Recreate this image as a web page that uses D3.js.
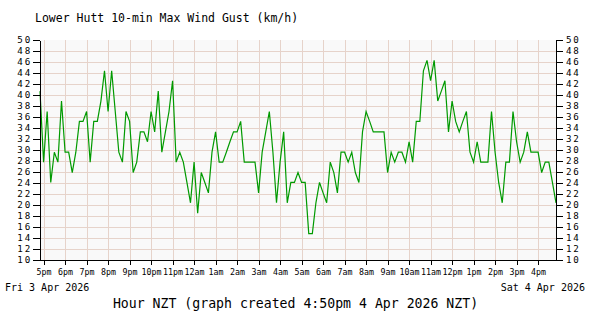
<!DOCTYPE html>
<html><head><meta charset="utf-8">
<script src="https://cdn.jsdelivr.net/npm/d3@7"></script>
<style>html,body{margin:0;padding:0;background:#fff;} svg{display:block;}</style>
</head><body><svg id="c" width="600" height="320"></svg>
<script>
const chartTitle = "Lower Hutt 10-min Max Wind Gust (km/h)";
const xAxisTitle = "Hour NZT (graph created 4:50pm 4 Apr 2026 NZT)";
const startDateLabel = "Fri 3 Apr 2026";
const endDateLabel = "Sat 4 Apr 2026";
const startTime = Date.UTC(2026, 3, 3, 16, 50); // NZT wall clock
const intervalMinutes = 10;
const gustKmh = [
  40.7,27.8,37.0,24.1,29.6,27.8,38.9,29.6,29.6,25.9,
  29.6,35.2,35.2,37.0,27.8,35.2,35.2,38.9,44.4,37.0,
  44.4,37.0,29.6,27.8,37.0,35.2,25.9,27.8,33.3,33.3,
  31.5,37.0,33.3,40.7,29.6,33.3,37.0,42.6,27.8,29.6,
  27.8,24.1,20.4,27.8,18.5,25.9,24.1,22.2,29.6,33.3,
  27.8,27.8,29.6,31.5,33.3,33.3,35.2,27.8,27.8,27.8,
  27.8,22.2,29.6,33.3,37.0,29.6,20.4,27.8,33.3,20.4,
  24.1,24.1,25.9,24.1,24.1,14.8,14.8,20.4,24.1,22.2,
  20.4,27.8,25.9,22.2,29.6,29.6,27.8,29.6,25.9,24.1,
  33.3,37.0,35.2,33.3,33.3,33.3,33.3,25.9,29.6,27.8,
  29.6,29.6,27.8,31.5,27.8,35.2,35.2,44.4,46.3,42.6,
  46.3,38.9,40.7,42.6,33.3,38.9,35.2,33.3,35.2,37.0,
  29.6,27.8,31.5,27.8,27.8,27.8,37.0,29.6,24.1,20.4,
  27.8,27.8,37.0,31.5,27.8,29.6,33.3,29.6,29.6,29.6,
  25.9,27.8,27.8,24.1,20.4
];
const yTickValues = [10,12,14,16,18,20,22,24,26,28,30,32,34,36,38,40,42,44,46,48,50];
const hourTickLabels = ["5pm","6pm","7pm","8pm","9pm","10pm","11pm","12am","1am","2am","3am","4am",
  "5am","6am","7am","8am","9am","10am","11am","12pm","1pm","2pm","3pm","4pm"];

const FONT = "DejaVu Sans Mono, monospace";
const svg = d3.select("#c");
const times = gustKmh.map((_, i) => new Date(startTime + i * intervalMinutes * 60000));
const endTime = new Date(startTime + 24 * 60 * 60000);

const x = d3.scaleUtc().domain([new Date(startTime), endTime]).range([40, 556]);
const y = d3.scaleLinear().domain([10, 50]).range([260, 40]);
const hourTicks = d3.utcHour.range(new Date(startTime), endTime);

// plot background
svg.append("rect").attr("x", x.range()[0]).attr("y", y(50))
  .attr("width", x.range()[1] - x.range()[0]).attr("height", y(10) - y(50))
  .attr("fill", "#f9f9f9");

// grid
const grid = svg.append("g").attr("stroke", "#e6d3ca").attr("stroke-width", 1).attr("shape-rendering", "crispEdges");
grid.selectAll("line.h").data(yTickValues.filter(v => v > 10 && v < 50)).join("line")
  .attr("x1", x.range()[0]).attr("x2", x.range()[1])
  .attr("y1", d => y(d)).attr("y2", d => y(d));
grid.selectAll("line.v").data(hourTicks).join("line")
  .attr("x1", d => Math.round(x(d)) + 0.5).attr("x2", d => Math.round(x(d)) + 0.5)
  .attr("y1", y(50)).attr("y2", y(10));

// data line
const line = d3.line().x((d, i) => x(times[i])).y(d => y(d));
svg.append("path").datum(gustKmh).attr("d", line)
  .attr("fill", "none").attr("stroke", "#009a00").attr("stroke-width", 1.2)
  .attr("stroke-linejoin", "miter");

// axes
function styleAxis(g, size) {
  g.selectAll("path.domain").attr("stroke", "#000").attr("stroke-width", 1.5);
  g.selectAll(".tick line").attr("stroke", "#000").attr("stroke-width", 1);
  g.selectAll("text").attr("font-family", FONT).attr("font-size", size).attr("fill", "#000");
  g.attr("shape-rendering", "crispEdges");
}
const yLeft = svg.append("g").attr("transform", `translate(${x.range()[0]},0)`)
  .call(d3.axisLeft(y).tickValues(yTickValues).tickSize(7).tickPadding(1).tickSizeOuter(0));
styleAxis(yLeft, 9.2);
yLeft.selectAll("text").attr("letter-spacing", 1.8);
const yRight = svg.append("g").attr("transform", `translate(${x.range()[1]},0)`)
  .call(d3.axisRight(y).tickValues(yTickValues).tickSize(7).tickPadding(3).tickSizeOuter(0));
styleAxis(yRight, 9.2);
yRight.selectAll("text").attr("letter-spacing", 1.8);

const xAxis = svg.append("g").attr("transform", `translate(0,${y(10)})`)
  .call(d3.axisBottom(x).tickValues(hourTicks).tickFormat((d, i) => hourTickLabels[i])
    .tickSize(5).tickPadding(3).tickSizeOuter(0));
styleAxis(xAxis, 8.3);
xAxis.selectAll("text").attr("dy", "0.8em");

// texts
svg.append("text").attr("x", 35).attr("y", 22).attr("font-family", FONT).attr("font-size", 11.5)
  .attr("fill", "#000").text(chartTitle);
svg.append("text").attr("x", 5).attr("y", 291).attr("font-family", FONT).attr("font-size", 10)
  .attr("fill", "#000").text(startDateLabel);
svg.append("text").attr("x", 585).attr("y", 291).attr("text-anchor", "end").attr("font-family", FONT)
  .attr("font-size", 10).attr("fill", "#000").text(endDateLabel);
svg.append("text").attr("x", 295.5).attr("y", 308).attr("text-anchor", "middle").attr("font-family", FONT)
  .attr("font-size", 13.2).attr("fill", "#000").text(xAxisTitle);
</script></body></html>
